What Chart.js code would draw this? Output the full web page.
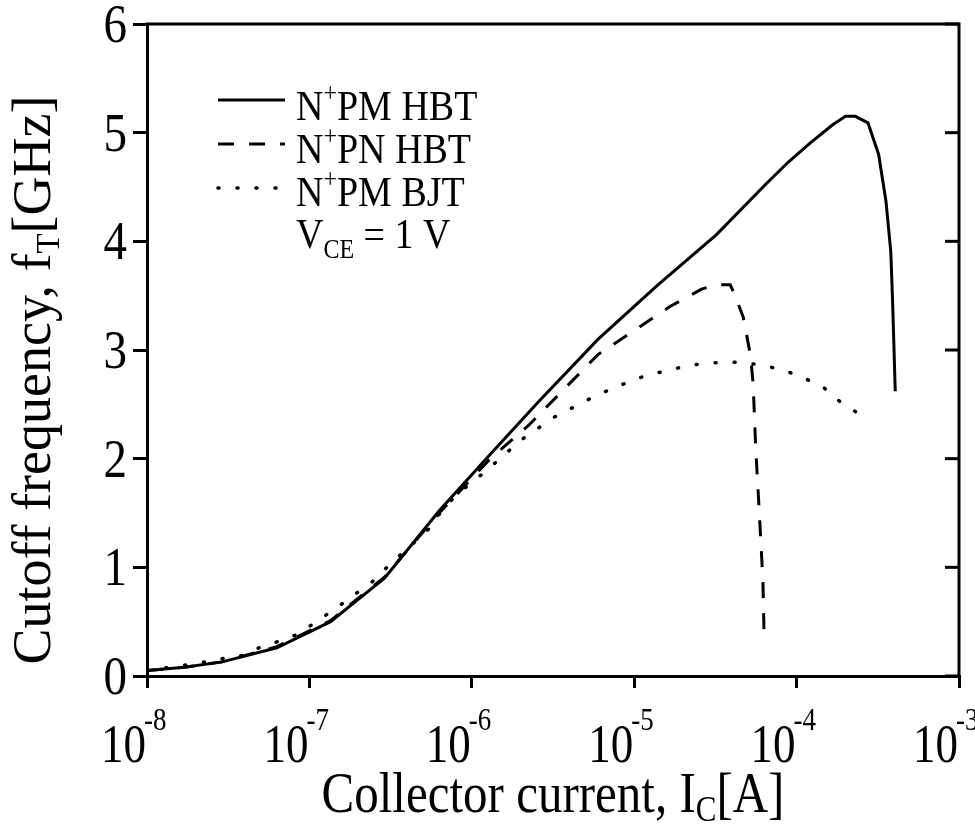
<!DOCTYPE html>
<html><head><meta charset="utf-8">
<script src="https://cdn.jsdelivr.net/npm/chart.js@4.4.1/dist/chart.umd.min.js"></script>
<style>html,body{margin:0;padding:0;background:#fff}canvas{display:block}</style>
</head><body>
<canvas id="c" width="975" height="826"></canvas>
<script>
// ---- data (collector current [A], cutoff frequency [GHz]) ----
const hbtM_x = [1.0e-8,1.7e-8,2.9e-8,6.3e-8,1.35e-7,2.9e-7,6.3e-7,1.3e-6,2.6e-6,6.0e-6,1.4e-5,3.2e-5,6.5e-5,8.9e-5,1.2e-4,1.66e-4,2.0e-4,2.3e-4,2.75e-4,3.2e-4,3.55e-4,3.8e-4,3.9e-4,4.05e-4];
const hbtM_y = [0.05,0.08,0.13,0.26,0.50,0.90,1.52,2.04,2.53,3.10,3.60,4.06,4.53,4.73,4.90,5.07,5.15,5.15,5.09,4.80,4.37,3.91,3.45,2.62];
const hbtN_x = [1.0e-8,1.7e-8,2.9e-8,6.3e-8,1.35e-7,2.9e-7,6.3e-7,1.3e-6,2.25e-6,6.0e-6,9.8e-6,1.66e-5,2.6e-5,3.2e-5,3.9e-5,4.1e-5,4.7e-5,5.2e-5,5.4e-5,5.6e-5,5.9e-5,6.2e-5,6.3e-5];
const hbtN_y = [0.05,0.08,0.13,0.27,0.51,0.91,1.50,2.00,2.31,2.96,3.17,3.40,3.56,3.60,3.60,3.53,3.30,2.95,2.69,2.10,1.49,0.88,0.41];
const bjtM_x = [1.0e-8,1.7e-8,2.3e-8,2.9e-8,3.9e-8,4.9e-8,6.5e-8,8.7e-8,1.1e-7,1.45e-7,1.86e-7,2.45e-7,3.2e-7,4.2e-7,5.4e-7,6.9e-7,8.9e-7,1.23e-6,1.6e-6,2.0e-6,3.2e-6,6.0e-6,7.8e-6,1.0e-5,1.3e-5,1.7e-5,2.2e-5,2.95e-5,3.8e-5,5.0e-5,6.6e-5,8.5e-5,1.12e-4,1.48e-4,1.9e-4,2.5e-4];
const bjtM_y = [0.05,0.10,0.13,0.16,0.19,0.26,0.32,0.39,0.50,0.62,0.74,0.87,1.04,1.20,1.35,1.57,1.72,1.89,2.04,2.17,2.38,2.59,2.66,2.73,2.78,2.82,2.86,2.88,2.89,2.88,2.85,2.81,2.74,2.65,2.51,2.40];

const xTicks = [1e-8,1e-7,1e-6,1e-5,1e-4,1e-3];
const xTickExponents = ['-8','-7','-6','-5','-4','-3'];
const yTicks = [0,1,2,3,4,5,6];
const yTickLabels = ['0','1','2','3','4','5','6'];

const FONT = '"Liberation Serif","Times New Roman",serif';

function zip(xs, ys){ return xs.map((x,i)=>({x:x, y:ys[i]})); }

function partsWidth(ctx, parts){
  let w = 0;
  for (const p of parts){ ctx.font = p.size + 'px ' + FONT; w += ctx.measureText(p.t).width; }
  return w;
}
function drawParts(ctx, x, y, parts, align, sy){
  const w = partsWidth(ctx, parts);
  let cx = align === 'center' ? x - w/2 : (align === 'right' ? x - w : x);
  ctx.save();
  ctx.translate(0, y);
  ctx.scale(1, sy || 1);
  ctx.textBaseline = 'alphabetic';
  ctx.textAlign = 'left';
  ctx.fillStyle = '#000';
  for (const p of parts){
    ctx.font = p.size + 'px ' + FONT;
    ctx.fillText(p.t, cx, p.dy || 0);
    cx += ctx.measureText(p.t).width;
  }
  ctx.restore();
}

const decor = {
  id: 'decor',
  afterDraw(chart){
    const ctx = chart.ctx;
    const a = chart.chartArea;
    const xs = chart.scales.x, ys = chart.scales.y;
    ctx.save();
    ctx.strokeStyle = '#000';
    ctx.lineWidth = 3;
    ctx.lineCap = 'square';
    // top and right frame
    ctx.beginPath();
    ctx.moveTo(a.left, a.top); ctx.lineTo(a.right, a.top); ctx.lineTo(a.right, a.bottom);
    ctx.stroke();
    // right inward ticks
    ctx.lineCap = 'butt';
    for (const v of yTicks){
      const py = ys.getPixelForValue(v);
      ctx.beginPath(); ctx.moveTo(a.right - 14, py); ctx.lineTo(a.right, py); ctx.stroke();
    }
    ctx.restore();

    // y tick labels
    yTicks.forEach((v,i)=>{
      const py = ys.getPixelForValue(v);
      drawParts(ctx, 127, py + 18, [{t:yTickLabels[i], size:47}], 'right', 1.15);
    });
    // x tick labels 10^n
    xTicks.forEach((v,i)=>{
      const px = xs.getPixelForValue(v);
      drawParts(ctx, px - 1, 762, [{t:'10', size:45}], 'right', 1.2);
      drawParts(ctx, px - 3, 730, [{t:xTickExponents[i], size:27}], 'left', 1.15);
    });
    // x title
    drawParts(ctx, (a.left + a.right)/2, 812,
      [{t:'Collector current, I', size:49},{t:'C', size:31, dy:8},{t:'[A]', size:49}], 'center', 1.15);
    // y title (rotated)
    ctx.save();
    ctx.translate(50, 380);
    ctx.rotate(-Math.PI/2);
    drawParts(ctx, 0, 0,
      [{t:'Cutoff frequency, f', size:54},{t:'T', size:33, dy:9},{t:'[GHz]', size:54}], 'center', 1);
    ctx.restore();

    // legend
    const rows = [100, 144, 188];
    const textBase = [120, 163, 206];
    chart.data.datasets.forEach((ds, i)=>{
      ctx.save();
      ctx.strokeStyle = '#000';
      ctx.lineWidth = ds.borderWidth;
      ctx.setLineDash(ds.borderDash || []);
      ctx.lineCap = ds.borderCapStyle || 'butt';
      ctx.beginPath(); ctx.moveTo(218, rows[i]); ctx.lineTo(285, rows[i]); ctx.stroke();
      ctx.restore();
      const nm = ds.label; // e.g. N+PM HBT
      drawParts(ctx, 296, textBase[i],
        [{t:nm.charAt(0), size:38},{t:'+', size:24, dy:-16},{t:nm.slice(2), size:38}], 'left', 1.1);
    });
    drawParts(ctx, 296, 248,
      [{t:'V', size:38},{t:'CE', size:24, dy:9},{t:' = 1 V', size:38}], 'left', 1.1);
  }
};

new Chart(document.getElementById('c'), {
  type: 'scatter',
  data: {
    datasets: [
      {label:'N+PM HBT', data: zip(hbtM_x, hbtM_y), showLine:true, borderColor:'#000', borderWidth:3, pointRadius:0, borderDash:[], borderCapStyle:'butt', tension:0},
      {label:'N+PN HBT', data: zip(hbtN_x, hbtN_y), showLine:true, borderColor:'#000', borderWidth:3, pointRadius:0, borderDash:[16,15], borderCapStyle:'butt', tension:0},
      {label:'N+PM BJT', data: zip(bjtM_x, bjtM_y), showLine:true, borderColor:'#000', borderWidth:3.5, pointRadius:0, borderDash:[1,18], borderCapStyle:'round', tension:0}
    ]
  },
  options: {
    responsive: false,
    animation: false,
    devicePixelRatio: 1,
    layout: { padding: { left: 0, right: 16, top: 24, bottom: 0 } },
    plugins: { legend: { display: false }, tooltip: { enabled: false } },
    scales: {
      x: {
        type: 'logarithmic', min: 1e-8, max: 1e-3,
        afterBuildTicks: s => { s.ticks = xTicks.map(v => ({ value: v })); },
        afterFit: s => { s.height = 150; },
        ticks: { display: false },
        grid: { display: true, drawOnChartArea: false, drawTicks: true, tickLength: 12, tickWidth: 3, tickColor: '#000', color: '#000', lineWidth: 3 },
        border: { display: true, width: 3, color: '#000' }
      },
      y: {
        type: 'linear', min: 0, max: 6,
        afterBuildTicks: s => { s.ticks = yTicks.map(v => ({ value: v })); },
        afterFit: s => { s.width = 147; },
        ticks: { display: false },
        grid: { display: true, drawOnChartArea: false, drawTicks: true, tickLength: 14, tickWidth: 3, tickColor: '#000', color: '#000', lineWidth: 3 },
        border: { display: true, width: 3, color: '#000' }
      }
    }
  },
  plugins: [decor]
});
</script>
</body></html>
